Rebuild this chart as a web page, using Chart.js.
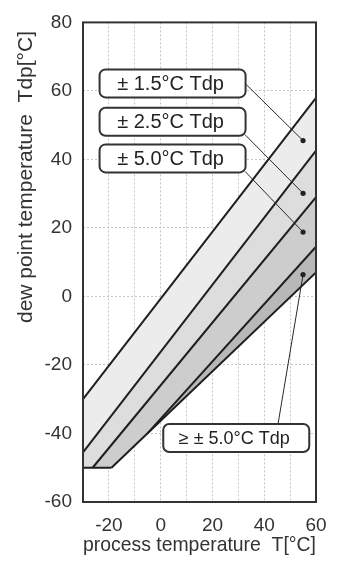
<!DOCTYPE html>
<html>
<head>
<meta charset="utf-8">
<script src="https://cdn.jsdelivr.net/npm/chart.js@4.4.1/dist/chart.umd.min.js"></script>
<style>
html, body { margin: 0; padding: 0; background: #fff; }
</style>
</head>
<body>
<canvas id="graf" width="342" height="562"></canvas>
<script>
// limit lines, [T, Tdp] end points
var line1 = [[-30, -30], [60, 58]];
var line2 = [[-30, -45.5], [60, 42.6]];
var line3 = [[-26.3, -50], [60, 29]];
var line4 = [[-5, -39.9], [60, 14.5]];
var line5 = [[-19, -50], [60, 7]];
var baseLine = [[-30, -50], [-19, -50]];

var xTicks = [-20, 0, 20, 40, 60];
var yTicks = [-60, -40, -20, 0, 20, 40, 60, 80];

// accuracy labels, box left edge / middle in data units, leader from -> dot
var labels = ['± 1.5°C Tdp', '± 2.5°C Tdp', '± 5.0°C Tdp', '≥ ± 5.0°C Tdp'];
var labelLeft = [-23.6, -23.6, -23.6, 1.0];
var labelMid = [62.2, 51.0, 40.3, -41.3];
var leadFrom = [[32.6, 62.2], [32.6, 47.2], [32.6, 36.5], [45.3, -37.4]];
var leadTo = [[55, 45.5], [55, 30.1], [55, 18.8], [55, 6.4]];

Chart.defaults.font.family = "'Liberation Sans', Arial, sans-serif";
Chart.defaults.color = '#333';

function pts(arr) {
	return arr.map(function(p) { return {x: p[0], y: p[1]}; });
}

// bands go under the lines (higher order = drawn first)
function band(arr, col) {
	return {data: pts(arr), fill: 'shape', backgroundColor: col, borderWidth: 0, pointRadius: 0, order: 2};
}

function edge(arr) {
	return {data: pts(arr), fill: false, borderColor: '#1e1e1e', borderWidth: 2, pointRadius: 0, order: 1};
}

var bandA = [line1[0], line1[1], line2[1], line2[0]];
var bandB = [line2[0], line2[1], line3[1], line3[0], baseLine[0]];
var bandC = [line3[0], line3[1], line4[1], line4[0], line5[0]];
var bandD = [line4[0], line4[1], line5[1]];

// marco, flechas y cajas de texto
var extras = {
	id: 'extras',
	afterDatasetsDraw: function(chart) {
		var ctx = chart.ctx, a = chart.chartArea;
		var x = chart.scales.x, y = chart.scales.y;
		ctx.save();
		ctx.strokeStyle = '#333';
		ctx.lineWidth = 2;
		ctx.strokeRect(a.left, a.top, a.right - a.left, a.bottom - a.top);

		ctx.lineWidth = 1;
		ctx.strokeStyle = '#2a2a2a';
		ctx.fillStyle = '#222';
		for (var i = 0; i < labels.length; i++) {
			var x0 = x.getPixelForValue(leadFrom[i][0]), y0 = y.getPixelForValue(leadFrom[i][1]);
			var x1 = x.getPixelForValue(leadTo[i][0]), y1 = y.getPixelForValue(leadTo[i][1]);
			ctx.beginPath();
			ctx.moveTo(x0, y0);
			ctx.lineTo(x1, y1);
			ctx.stroke();
			ctx.beginPath();
			ctx.arc(x1, y1, 2.6, 0, Math.PI * 2);
			ctx.fill();
		}

		for (var i = 0; i < labels.length; i++) {
			var bx = x.getPixelForValue(labelLeft[i]), by = y.getPixelForValue(labelMid[i]);
			var w = 146, h = 28;
			ctx.beginPath();
			ctx.roundRect(bx, by - h / 2, w, h, 6);
			ctx.fillStyle = '#fff';
			ctx.fill();
			ctx.lineWidth = 2;
			ctx.strokeStyle = '#333';
			ctx.stroke();
			ctx.fillStyle = '#222';
			ctx.font = (i == 3 ? 18 : 20) + "px 'Liberation Sans', Arial, sans-serif";
			ctx.textAlign = 'center';
			ctx.textBaseline = 'middle';
			ctx.fillText(labels[i], bx + w / 2 - 2, by + 1);
		}
		ctx.restore();
	},
	afterDraw: function(chart) {
		var ctx = chart.ctx;
		ctx.save();
		ctx.translate(26, 177);
		ctx.rotate(-Math.PI / 2);
		ctx.font = "21px 'Liberation Sans', Arial, sans-serif";
		ctx.fillStyle = '#333';
		ctx.textAlign = 'center';
		ctx.textBaseline = 'middle';
		ctx.fillText('dew point temperature  Tdp[°C]', 0, 0);
		ctx.restore();
	}
};

var grafica = document.getElementById('graf');
var Graf = new Chart(grafica, {
	type: 'line',
	data: {
		datasets: [
			band(bandA, '#ececec'),
			band(bandB, '#dddddd'),
			band(bandC, '#cdcdcd'),
			band(bandD, '#b8b8b8'),
			edge(line1), edge(line2), edge(line3), edge(line4), edge(line5), edge(baseLine)
		]
	},
	options: {
		responsive: false,
		animation: false,
		devicePixelRatio: 1,
		layout: {padding: {top: 17, right: 26, left: 0, bottom: 0}},
		plugins: {legend: {display: false}, tooltip: {enabled: false}},
		scales: {
			x: {
				type: 'linear', min: -30, max: 60,
				ticks: {
					stepSize: 10, autoSkip: false, maxRotation: 0, padding: 12,
					font: {size: 19}, color: '#333',
					callback: function(v) { return xTicks.indexOf(v) >= 0 ? String(v) : ''; }
				},
				grid: {color: '#c4c4c4', drawTicks: false},
				border: {display: false, dash: [2, 2]},
				title: {display: true, text: 'process temperature  T[°C]', font: {size: 21}, color: '#333', padding: {top: 0, bottom: 4}},
				afterFit: function(s) { s.height = 60; }
			},
			y: {
				type: 'linear', min: -60, max: 80,
				ticks: {
					stepSize: 20, padding: 11, font: {size: 19}, color: '#333',
					callback: function(v) { return yTicks.indexOf(v) >= 0 ? String(v) : ''; }
				},
				grid: {color: '#c4c4c4', drawTicks: false},
				border: {display: false, dash: [2, 2]},
				afterFit: function(s) { s.width = 83; }
			}
		}
	},
	plugins: [extras]
});
</script>
</body>
</html>
